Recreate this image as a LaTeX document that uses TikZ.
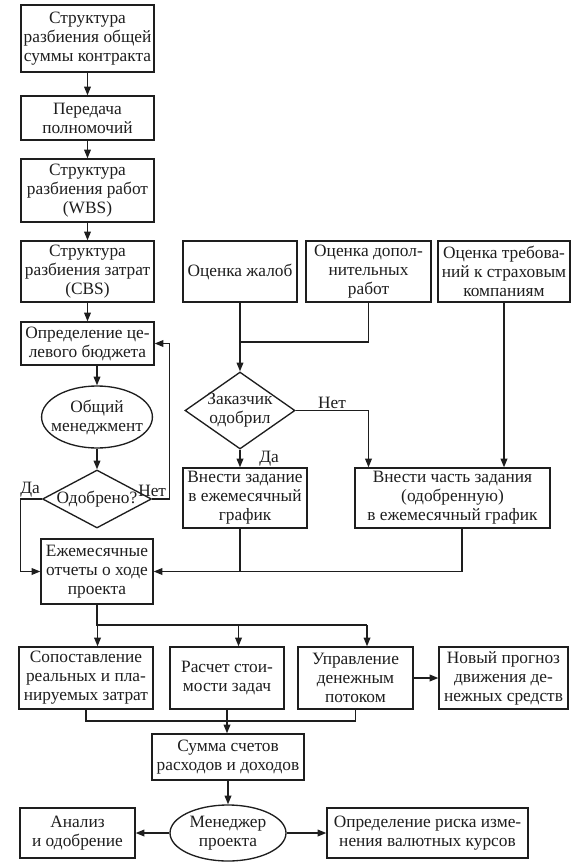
\documentclass[tikz,border=0pt]{standalone}
\usepackage{fontspec}
\setmainfont{Liberation Serif}
\usepackage{xcolor}
\usetikzlibrary{arrows.meta,positioning,shapes.geometric}
\definecolor{cInk}{HTML}{1E1E1E}
\tikzset{
  blk/.style={draw=cInk, line width=1pt, fill=white, inner sep=2pt, align=center,
              font=\fontsize{13}{14.25}\selectfont, text=cInk},
  ovalblk/.style={blk, ellipse, inner xsep=-5pt, inner ysep=0pt},
  decblk/.style={blk, diamond, inner xsep=-16pt, inner ysep=-4pt},
  arr/.style={-{Triangle[length=6.5pt,width=5pt]}, line width=1pt, cInk},
  ln/.style={line width=1pt, cInk},
  lbl/.style={font=\fontsize{13}{14.25}\selectfont, text=cInk, inner sep=1pt}
}

\begin{document}
\begin{tikzpicture}[x=0.75pt, y=-0.75pt]
\useasboundingbox (0,0) rectangle (579,863);
% left column
\node[blk, minimum width=99.75pt, minimum height=50.25pt] (contract) at (87.5,38.5) {Структура\\разбиения общей\\суммы контракта};
\node[blk, minimum width=99.75pt, minimum height=33pt] (deleg) at (87.5,118) {Передача\\полномочий};
\node[blk, minimum width=99.75pt, minimum height=47.25pt] (wbs) at (87.5,190.5) {Структура\\разбиения работ\\(WBS)};
\node[blk, minimum width=99.75pt, minimum height=45.75pt] (cbs) at (87.5,271.5) {Структура\\разбиения затрат\\(CBS)};
\node[blk, minimum width=99.75pt, minimum height=32.25pt] (budget) at (87.5,343.5) {Определение це-\\левого бюджета};
\node[ovalblk, minimum width=81.75pt, minimum height=46.5pt] (mgmt) at (97,417) {Общий\\менеджмент};
\node[decblk, minimum width=81.75pt, minimum height=43.5pt] (approved) at (97,499) {Одобрено?};
\node[blk, minimum width=84pt, minimum height=48.75pt] (report) at (97,571.5) {Ежемесячные\\отчеты о ходе\\проекта};
\foreach \a/\b in {contract/deleg, deleg/wbs, wbs/cbs, cbs/budget}
  \draw[arr] (\a) -- (\b);
\draw[arr] (budget.south -| mgmt) -- (mgmt);
\draw[arr] (mgmt) -- (approved);
\draw[arr] (approved.east) node[lbl, above]{Нет} -- ++(17,0) |- (budget.east);
\draw[arr] (approved.west) node[lbl, above left]{Да} -- (budget.west |- approved.west) |- (report.west);
% claims branch
\node[blk, minimum width=85.5pt, minimum height=45.75pt] (complaints) at (240,271.5) {Оценка жалоб};
\node[blk, minimum width=93.75pt, minimum height=45.75pt] (extra) at (368.5,271.5) {Оценка допол-\\нительных\\работ};
\node[blk, minimum width=99pt, minimum height=45.75pt] (insur) at (504,271.5) {Оценка требова-\\ний к страховым\\компаниям};
\node[decblk, minimum width=82.5pt, minimum height=57.75pt] (client) at (240,410.5) {Заказчик\\одобрил};
\node[blk, minimum width=93pt, minimum height=45pt] (addtask) at (245,498) {Внести задание\\в ежемесячный\\график};
\node[blk, minimum width=146.25pt, minimum height=45pt] (addpart) at (452.5,498) {Внести часть задания\\(одобренную)\\в ежемесячный график};
\coordinate (jn) at (240,342);
\draw[ln] (extra.south) |- (jn);
\draw[arr] (complaints) -- (client);
\draw[arr] (client.east) -| node[lbl, pos=0.25, above]{Нет} (extra.south |- addpart.north);
\draw[arr] (client.south) -- node[lbl, right=13pt]{Да} (client.south |- addtask.north);
\draw[arr] (insur) -- (insur |- addpart.north);
\draw[ln] (client |- addtask.south) -- (client |- report.east);
\draw[arr] ([xshift=7pt]addpart.south) |- (report.east);
% reports
\node[blk, minimum width=100.5pt, minimum height=46.5pt] (cmp) at (86,678) {Сопоставление\\реальных и пла-\\нируемых затрат};
\node[blk, minimum width=85.5pt, minimum height=46.5pt] (calc) at (227,678) {Расчет стои-\\мости задач};
\node[blk, minimum width=86.25pt, minimum height=46.5pt] (cash) at (355.5,678) {Управление\\денежным\\потоком};
\node[blk, minimum width=96.75pt, minimum height=46.5pt] (news) at (503.5,678) {Новый прогноз\\движения де-\\нежных средств};
\coordinate (fork) at (97,625);
\draw[ln] (report) -- (fork) -- (fork -| cash.70);
\foreach \n in {cmp,calc,cash}
  \draw[arr] (fork -| \n.70) -- (\n.70);
\draw[arr] (cash) -- (news);
% totals
\node[blk, minimum width=114pt, minimum height=34.5pt] (sum) at (228,757) {Сумма счетов\\расходов и доходов};
\coordinate (mrg) at (227,721);
\draw[ln] (cmp.south) |- (mrg) -| (cash.south);
\draw[arr] (calc) -- (calc |- sum.north);
\node[ovalblk, minimum width=87pt, minimum height=42pt] (mgr) at (228,833) {Менеджер\\проекта};
\node[blk, minimum width=86.25pt, minimum height=37.5pt] (analysis) at (77.5,833) {Анализ\\и одобрение};
\node[blk, minimum width=150.75pt, minimum height=37.5pt] (risk) at (427.5,833) {Определение риска изме-\\нения валютных курсов};
\draw[arr] (sum) -- (mgr);
\draw[arr] (mgr) -- (analysis);
\draw[arr] (mgr) -- (risk);
\end{tikzpicture}
\end{document}
